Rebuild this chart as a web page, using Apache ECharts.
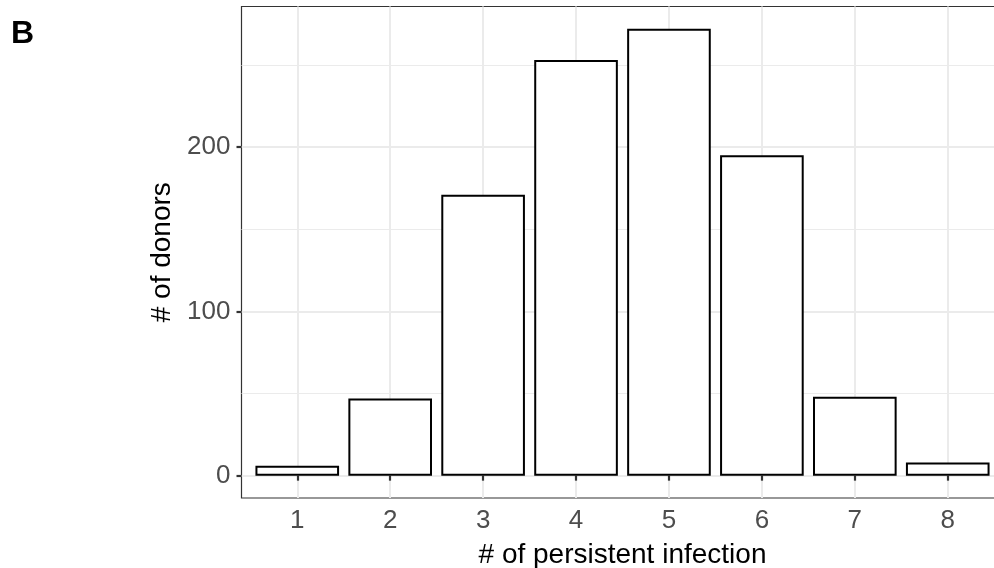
<!DOCTYPE html>
<html>
<head>
<meta charset="utf-8">
<script src="https://cdn.jsdelivr.net/npm/echarts@6/dist/echarts.min.js"></script>
<style>
html,body{margin:0;padding:0;background:#fff;}
#chart{width:994px;height:568px;}
</style>
</head>
<body>
<div id="chart"></div>
<script>
const categories = [1, 2, 3, 4, 5, 6, 7, 8];
const donors = [6, 47, 171, 253, 272, 195, 48, 8];
const yTicks = [0, 100, 200];
const yMinor = [50, 150, 250];
const xTicks = [1, 2, 3, 4, 5, 6, 7, 8];

const FONT = '"Liberation Sans", Arial, Helvetica, sans-serif';
const chart = echarts.init(document.getElementById('chart'), null, {renderer: 'canvas'});

chart.setOption({
  animation: false,
  backgroundColor: '#ffffff',
  title: {
    text: 'B',
    left: 6,
    top: 13,
    textStyle: {fontFamily: FONT, fontSize: 32, fontWeight: 'bold', color: '#000'}
  },
  grid: {
    left: 241.5, top: 6.5, right: -9.5, bottom: 70,
    containLabel: false,
    outerBoundsMode: 'none',
    show: true, borderColor: '#333333', borderWidth: 1.2, backgroundColor: '#fff'
  },
  xAxis: {
    type: 'value',
    min: 0.4, max: 8.6,
    name: '# of persistent infection',
    nameLocation: 'middle',
    nameGap: 43,
    nameTextStyle: {fontFamily: FONT, fontSize: 28, color: '#000'},
    axisLine: {show: false},
    axisTick: {show: true, length: 5, customValues: xTicks, lineStyle: {color: '#333', width: 2.2}},
    axisLabel: {show: true, customValues: xTicks, margin: 10, color: '#4d4d4d', fontFamily: FONT, fontSize: 26},
    splitLine: {show: true, lineStyle: {color: '#ebebeb', width: 2}}
  },
  yAxis: {
    type: 'value',
    min: -13.6, max: 285.6,
    name: '# of donors',
    nameLocation: 'middle',
    nameGap: 62,
    nameTextStyle: {fontFamily: FONT, fontSize: 28, color: '#000'},
    axisLine: {show: false},
    axisTick: {show: true, length: 5, customValues: yTicks, lineStyle: {color: '#333', width: 2.2}},
    axisLabel: {show: true, customValues: yTicks, margin: 11, color: '#4d4d4d', fontFamily: FONT, fontSize: 26},
    splitLine: {show: true, lineStyle: {color: '#ebebeb', width: 2}}
  },
  series: [{
    type: 'bar',
    data: categories.map((c, i) => [c, donors[i]]),
    barWidth: '90%',
    itemStyle: {color: '#ffffff', borderColor: '#000000', borderWidth: 2},
    z: 3,
    markLine: {
      silent: true,
      symbol: ['none', 'none'],
      z: 1,
      label: {show: false},
      lineStyle: {color: '#ebebeb', width: 1.2, type: 'solid'},
      data: yMinor.map(v => ({yAxis: v}))
    }
  }]
});
</script>
</body>
</html>
